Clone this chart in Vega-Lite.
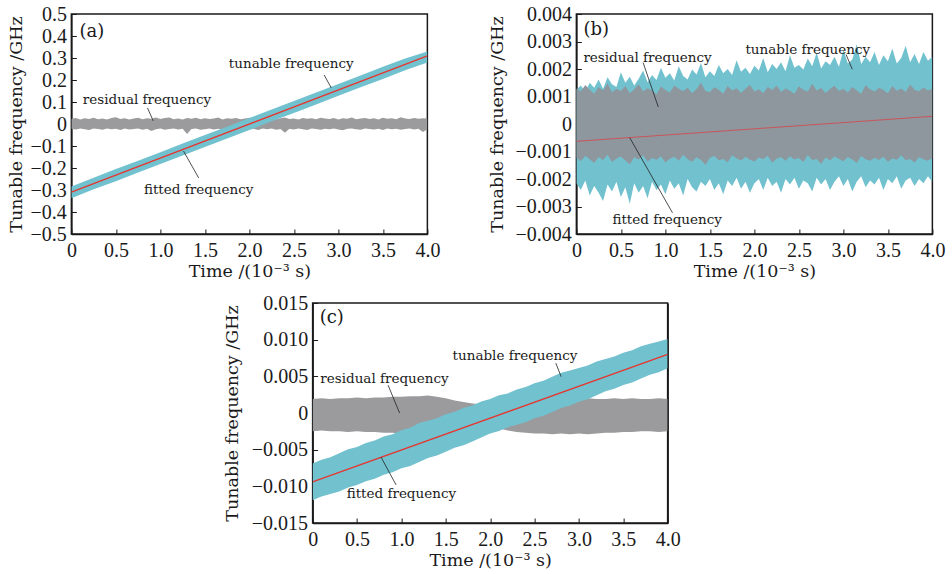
{
"$schema": "https://vega.github.io/schema/vega-lite/v6.json",
"padding": {"left": 6, "top": 3, "right": 2, "bottom": 2},
"background": "white",
"config": {
  "font": "DejaVu Serif",
  "view": {"stroke": "#1a1a1a", "strokeWidth": 1.5},
  "axis": {"grid": false, "domainColor": "#1a1a1a", "domainWidth": 1.5, "tickColor": "#1a1a1a", "tickSize": -5, "tickWidth": 1,
    "labelFont": "Liberation Serif", "labelFontSize": 20, "labelColor": "#1a1a1a", "labelPadding": 10, "labelFlush": false, "labelOverlap": false,
    "titleFont": "DejaVu Serif", "titleFontSize": 17.5, "titleFontWeight": "normal", "titleColor": "#1a1a1a"},
  "axisX": {"titlePadding": 2, "labelPadding": 11},
  "text": {"font": "DejaVu Serif"}
},
"datasets": {
  "a_res": [
{"t":0,"lo":-0.022,"hi":0.024},{"t":0.05,"lo":-0.025,"hi":0.027},{"t":0.1,"lo":-0.020,"hi":0.021},{"t":0.15,"lo":-0.024,"hi":0.026},{"t":0.2,"lo":-0.027,"hi":0.023},
{"t":0.25,"lo":-0.021,"hi":0.028},{"t":0.3,"lo":-0.023,"hi":0.022},{"t":0.35,"lo":-0.026,"hi":0.025},{"t":0.4,"lo":-0.020,"hi":0.020},{"t":0.45,"lo":-0.024,"hi":0.027},
{"t":0.5,"lo":-0.022,"hi":0.031},{"t":0.55,"lo":-0.027,"hi":0.023},{"t":0.6,"lo":-0.021,"hi":0.026},{"t":0.65,"lo":-0.025,"hi":0.021},{"t":0.7,"lo":-0.023,"hi":0.025},
{"t":0.75,"lo":-0.020,"hi":0.028},{"t":0.8,"lo":-0.026,"hi":0.022},{"t":0.85,"lo":-0.022,"hi":0.026},{"t":0.9,"lo":-0.032,"hi":0.024},{"t":0.95,"lo":-0.024,"hi":0.029},
{"t":1,"lo":-0.021,"hi":0.023},{"t":1.05,"lo":-0.026,"hi":0.027},{"t":1.1,"lo":-0.023,"hi":0.030},{"t":1.15,"lo":-0.020,"hi":0.022},{"t":1.2,"lo":-0.025,"hi":0.025},
{"t":1.25,"lo":-0.022,"hi":0.021},{"t":1.3,"lo":-0.046,"hi":0.027},{"t":1.35,"lo":-0.023,"hi":0.024},{"t":1.4,"lo":-0.021,"hi":0.028},{"t":1.45,"lo":-0.026,"hi":0.022},
{"t":1.5,"lo":-0.024,"hi":0.026},{"t":1.55,"lo":-0.020,"hi":0.023},{"t":1.6,"lo":-0.025,"hi":0.025},{"t":1.65,"lo":-0.022,"hi":0.029},{"t":1.7,"lo":-0.027,"hi":0.021},
{"t":1.75,"lo":-0.021,"hi":0.026},{"t":1.8,"lo":-0.024,"hi":0.024},{"t":1.85,"lo":-0.026,"hi":0.027},{"t":1.9,"lo":-0.020,"hi":0.022},{"t":1.95,"lo":-0.023,"hi":0.025},
{"t":2,"lo":-0.025,"hi":0.028},{"t":2.05,"lo":-0.022,"hi":0.023},{"t":2.1,"lo":-0.027,"hi":0.026},{"t":2.15,"lo":-0.021,"hi":0.021},{"t":2.2,"lo":-0.024,"hi":0.027},
{"t":2.25,"lo":-0.020,"hi":0.024},{"t":2.3,"lo":-0.026,"hi":0.022},{"t":2.35,"lo":-0.023,"hi":0.026},{"t":2.4,"lo":-0.040,"hi":0.029},{"t":2.45,"lo":-0.022,"hi":0.023},
{"t":2.5,"lo":-0.025,"hi":0.025},{"t":2.55,"lo":-0.021,"hi":0.021},{"t":2.6,"lo":-0.024,"hi":0.027},{"t":2.65,"lo":-0.027,"hi":0.024},{"t":2.7,"lo":-0.020,"hi":0.026},
{"t":2.75,"lo":-0.023,"hi":0.022},{"t":2.8,"lo":-0.026,"hi":0.028},{"t":2.85,"lo":-0.022,"hi":0.025},{"t":2.9,"lo":-0.024,"hi":0.023},{"t":2.95,"lo":-0.021,"hi":0.027},
{"t":3,"lo":-0.025,"hi":0.021},{"t":3.05,"lo":-0.028,"hi":0.026},{"t":3.1,"lo":-0.022,"hi":0.024},{"t":3.15,"lo":-0.020,"hi":0.029},{"t":3.2,"lo":-0.024,"hi":0.022},
{"t":3.25,"lo":-0.026,"hi":0.025},{"t":3.3,"lo":-0.021,"hi":0.027},{"t":3.35,"lo":-0.023,"hi":0.023},{"t":3.4,"lo":-0.025,"hi":0.026},{"t":3.45,"lo":-0.022,"hi":0.021},
{"t":3.5,"lo":-0.027,"hi":0.028},{"t":3.55,"lo":-0.020,"hi":0.024},{"t":3.6,"lo":-0.024,"hi":0.026},{"t":3.65,"lo":-0.022,"hi":0.022},{"t":3.7,"lo":-0.026,"hi":0.031},
{"t":3.75,"lo":-0.023,"hi":0.025},{"t":3.8,"lo":-0.021,"hi":0.023},{"t":3.85,"lo":-0.025,"hi":0.027},{"t":3.9,"lo":-0.022,"hi":0.024},{"t":3.95,"lo":-0.036,"hi":0.026},
{"t":4,"lo":-0.024,"hi":0.025}
  ],
  "a_tun": [
{"t":0,"lo":-0.338,"hi":-0.284},{"t":0.25,"lo":-0.297,"hi":-0.244},{"t":0.5,"lo":-0.260,"hi":-0.205},{"t":0.75,"lo":-0.221,"hi":-0.167},
{"t":1,"lo":-0.182,"hi":-0.128},{"t":1.25,"lo":-0.143,"hi":-0.089},{"t":1.5,"lo":-0.104,"hi":-0.050},{"t":1.75,"lo":-0.066,"hi":-0.012},
{"t":2,"lo":-0.027,"hi":0.027},{"t":2.25,"lo":0.012,"hi":0.066},{"t":2.5,"lo":0.050,"hi":0.104},{"t":2.75,"lo":0.089,"hi":0.143},
{"t":3,"lo":0.128,"hi":0.182},{"t":3.25,"lo":0.167,"hi":0.221},{"t":3.5,"lo":0.205,"hi":0.260},{"t":3.75,"lo":0.244,"hi":0.298},
{"t":4,"lo":0.280,"hi":0.330}
  ],
  "a_fit": [{"t":0,"v":-0.31},{"t":4,"v":0.31}],
  "a_arrow": [
    {"t":0.92,"v":0.014,"t2":0.855,"v2":0.073},
    {"t":2.92,"v":0.164,"t2":2.84,"v2":0.223},
    {"t":1.26,"v":-0.123,"t2":1.43,"v2":-0.245}
  ],
  "a_note": [
    {"t":0.85,"v":0.109,"label":"residual frequency"},
    {"t":2.47,"v":0.273,"label":"tunable frequency"},
    {"t":1.43,"v":-0.30,"label":"fitted frequency"}
  ],
  "a_tag": [{"t":0.09,"v":0.42,"label":"(a)"}],
  "b_band": [
{"t":0,"rlo":-0.00122,"rhi":0.00130,"tlo":-0.00215,"thi":0.00125},
{"t":0.05,"rlo":-0.00135,"rhi":0.00118,"tlo":-0.00240,"thi":0.00140},
{"t":0.1,"rlo":-0.00115,"rhi":0.00142,"tlo":-0.00205,"thi":0.00118},
{"t":0.15,"rlo":-0.00128,"rhi":0.00125,"tlo":-0.00260,"thi":0.00150},
{"t":0.2,"rlo":-0.00142,"rhi":0.00110,"tlo":-0.00225,"thi":0.00132},
{"t":0.25,"rlo":-0.00120,"rhi":0.00135,"tlo":-0.00250,"thi":0.00162},
{"t":0.3,"rlo":-0.00131,"rhi":0.00122,"tlo":-0.00280,"thi":0.00128},
{"t":0.35,"rlo":-0.00112,"rhi":0.00148,"tlo":-0.00220,"thi":0.00170},
{"t":0.4,"rlo":-0.00138,"rhi":0.00115,"tlo":-0.00245,"thi":0.00145},
{"t":0.45,"rlo":-0.00125,"rhi":0.00128,"tlo":-0.00210,"thi":0.00135},
{"t":0.5,"rlo":-0.00118,"rhi":0.00120,"tlo":-0.00265,"thi":0.00188},
{"t":0.55,"rlo":-0.00133,"rhi":0.00138,"tlo":-0.00230,"thi":0.00150},
{"t":0.6,"rlo":-0.00146,"rhi":0.00112,"tlo":-0.00290,"thi":0.00172},
{"t":0.65,"rlo":-0.00121,"rhi":0.00126,"tlo":-0.00215,"thi":0.00140},
{"t":0.7,"rlo":-0.00129,"rhi":0.00145,"tlo":-0.00250,"thi":0.00165},
{"t":0.75,"rlo":-0.00114,"rhi":0.00118,"tlo":-0.00225,"thi":0.00195},
{"t":0.8,"rlo":-0.00136,"rhi":0.00130,"tlo":-0.00270,"thi":0.00152},
{"t":0.85,"rlo":-0.00124,"rhi":0.00122,"tlo":-0.00210,"thi":0.00178},
{"t":0.9,"rlo":-0.00130,"rhi":0.00108,"tlo":-0.00240,"thi":0.00160},
{"t":0.95,"rlo":-0.00117,"rhi":0.00136,"tlo":-0.00220,"thi":0.00205},
{"t":1,"rlo":-0.00140,"rhi":0.00124,"tlo":-0.00255,"thi":0.00168},
{"t":1.05,"rlo":-0.00126,"rhi":0.00115,"tlo":-0.00205,"thi":0.00185},
{"t":1.1,"rlo":-0.00119,"rhi":0.00140,"tlo":-0.00235,"thi":0.00158},
{"t":1.15,"rlo":-0.00134,"rhi":0.00128,"tlo":-0.00215,"thi":0.00210},
{"t":1.2,"rlo":-0.00112,"rhi":0.00119,"tlo":-0.00260,"thi":0.00175},
{"t":1.25,"rlo":-0.00128,"rhi":0.00132,"tlo":-0.00200,"thi":0.00162},
{"t":1.3,"rlo":-0.00137,"rhi":0.00112,"tlo":-0.00230,"thi":0.00198},
{"t":1.35,"rlo":-0.00121,"rhi":0.00127,"tlo":-0.00245,"thi":0.00180},
{"t":1.4,"rlo":-0.00131,"rhi":0.00150,"tlo":-0.00210,"thi":0.00222},
{"t":1.45,"rlo":-0.00148,"rhi":0.00120,"tlo":-0.00225,"thi":0.00170},
{"t":1.5,"rlo":-0.00123,"rhi":0.00116,"tlo":-0.00200,"thi":0.00192},
{"t":1.55,"rlo":-0.00116,"rhi":0.00134,"tlo":-0.00240,"thi":0.00175},
{"t":1.6,"rlo":-0.00132,"rhi":0.00125,"tlo":-0.00215,"thi":0.00215},
{"t":1.65,"rlo":-0.00127,"rhi":0.00110,"tlo":-0.00255,"thi":0.00185},
{"t":1.7,"rlo":-0.00139,"rhi":0.00138,"tlo":-0.00205,"thi":0.00200},
{"t":1.75,"rlo":-0.00114,"rhi":0.00122,"tlo":-0.00225,"thi":0.00178},
{"t":1.8,"rlo":-0.00125,"rhi":0.00130,"tlo":-0.00195,"thi":0.00232},
{"t":1.85,"rlo":-0.00133,"rhi":0.00114,"tlo":-0.00235,"thi":0.00190},
{"t":1.9,"rlo":-0.00119,"rhi":0.00128,"tlo":-0.00210,"thi":0.00205},
{"t":1.95,"rlo":-0.00130,"rhi":0.00143,"tlo":-0.00250,"thi":0.00182},
{"t":2,"rlo":-0.00136,"rhi":0.00118,"tlo":-0.00215,"thi":0.00212},
{"t":2.05,"rlo":-0.00122,"rhi":0.00126,"tlo":-0.00200,"thi":0.00195},
{"t":2.1,"rlo":-0.00128,"rhi":0.00112,"tlo":-0.00240,"thi":0.00240},
{"t":2.15,"rlo":-0.00115,"rhi":0.00135,"tlo":-0.00195,"thi":0.00188},
{"t":2.2,"rlo":-0.00141,"rhi":0.00124,"tlo":-0.00225,"thi":0.00218},
{"t":2.25,"rlo":-0.00126,"rhi":0.00140,"tlo":-0.00210,"thi":0.00200},
{"t":2.3,"rlo":-0.00120,"rhi":0.00116,"tlo":-0.00250,"thi":0.00225},
{"t":2.35,"rlo":-0.00134,"rhi":0.00129,"tlo":-0.00200,"thi":0.00192},
{"t":2.4,"rlo":-0.00117,"rhi":0.00121,"tlo":-0.00220,"thi":0.00250},
{"t":2.45,"rlo":-0.00129,"rhi":0.00110,"tlo":-0.00195,"thi":0.00205},
{"t":2.5,"rlo":-0.00124,"rhi":0.00137,"tlo":-0.00235,"thi":0.00215},
{"t":2.55,"rlo":-0.00138,"rhi":0.00125,"tlo":-0.00205,"thi":0.00198},
{"t":2.6,"rlo":-0.00113,"rhi":0.00118,"tlo":-0.00215,"thi":0.00238},
{"t":2.65,"rlo":-0.00131,"rhi":0.00146,"tlo":-0.00245,"thi":0.00210},
{"t":2.7,"rlo":-0.00127,"rhi":0.00122,"tlo":-0.00195,"thi":0.00260},
{"t":2.75,"rlo":-0.00145,"rhi":0.00131,"tlo":-0.00220,"thi":0.00202},
{"t":2.8,"rlo":-0.00121,"rhi":0.00113,"tlo":-0.00200,"thi":0.00228},
{"t":2.85,"rlo":-0.00133,"rhi":0.00127,"tlo":-0.00240,"thi":0.00215},
{"t":2.9,"rlo":-0.00118,"rhi":0.00139,"tlo":-0.00210,"thi":0.00245},
{"t":2.95,"rlo":-0.00126,"rhi":0.00120,"tlo":-0.00190,"thi":0.00208},
{"t":3,"rlo":-0.00135,"rhi":0.00128,"tlo":-0.00225,"thi":0.00270},
{"t":3.05,"rlo":-0.00120,"rhi":0.00115,"tlo":-0.00200,"thi":0.00220},
{"t":3.1,"rlo":-0.00129,"rhi":0.00135,"tlo":-0.00245,"thi":0.00235},
{"t":3.15,"rlo":-0.00142,"rhi":0.00123,"tlo":-0.00210,"thi":0.00290},
{"t":3.2,"rlo":-0.00116,"rhi":0.00110,"tlo":-0.00190,"thi":0.00218},
{"t":3.25,"rlo":-0.00128,"rhi":0.00141,"tlo":-0.00230,"thi":0.00245},
{"t":3.3,"rlo":-0.00134,"rhi":0.00126,"tlo":-0.00205,"thi":0.00225},
{"t":3.35,"rlo":-0.00123,"rhi":0.00118,"tlo":-0.00220,"thi":0.00262},
{"t":3.4,"rlo":-0.00131,"rhi":0.00132,"tlo":-0.00195,"thi":0.00215},
{"t":3.45,"rlo":-0.00119,"rhi":0.00124,"tlo":-0.00240,"thi":0.00250},
{"t":3.5,"rlo":-0.00137,"rhi":0.00112,"tlo":-0.00200,"thi":0.00228},
{"t":3.55,"rlo":-0.00125,"rhi":0.00138,"tlo":-0.00215,"thi":0.00275},
{"t":3.6,"rlo":-0.00130,"rhi":0.00121,"tlo":-0.00190,"thi":0.00220},
{"t":3.65,"rlo":-0.00114,"rhi":0.00129,"tlo":-0.00235,"thi":0.00240},
{"t":3.7,"rlo":-0.00132,"rhi":0.00116,"tlo":-0.00205,"thi":0.00285},
{"t":3.75,"rlo":-0.00127,"rhi":0.00144,"tlo":-0.00195,"thi":0.00225},
{"t":3.8,"rlo":-0.00140,"rhi":0.00125,"tlo":-0.00225,"thi":0.00255},
{"t":3.85,"rlo":-0.00121,"rhi":0.00119,"tlo":-0.00200,"thi":0.00218},
{"t":3.9,"rlo":-0.00128,"rhi":0.00133,"tlo":-0.00215,"thi":0.00262},
{"t":3.95,"rlo":-0.00134,"rhi":0.00122,"tlo":-0.00190,"thi":0.00230},
{"t":4,"rlo":-0.00124,"rhi":0.00127,"tlo":-0.00210,"thi":0.00245}
  ],
  "b_fit": [{"t":0,"v":-0.00063},{"t":4,"v":0.00028}],
  "b_arrow": [
    {"t":0.92,"v":0.00062,"t2":0.75,"v2":0.00223},
    {"t":3.10,"v":0.00199,"t2":3.03,"v2":0.00253},
    {"t":0.60,"v":-0.0005,"t2":1.08,"v2":-0.00323}
  ],
  "b_note": [
    {"t":0.80,"v":0.00241,"label":"residual frequency"},
    {"t":2.60,"v":0.00268,"label":"tunable frequency"},
    {"t":1.02,"v":-0.00349,"label":"fitted frequency"}
  ],
  "b_tag": [{"t":0.08,"v":0.00342,"label":"(b)"}],
  "c_band": [
{"t":0,"rlo":-0.0025,"rhi":0.0019,"tlo":-0.01190,"thi":-0.00690},
{"t":0.1,"rlo":-0.0024,"rhi":0.0020,"tlo":-0.01137,"thi":-0.00637},
{"t":0.2,"rlo":-0.0025,"rhi":0.0019,"tlo":-0.01103,"thi":-0.00603},
{"t":0.3,"rlo":-0.0025,"rhi":0.0020,"tlo":-0.01070,"thi":-0.00550},
{"t":0.4,"rlo":-0.0026,"rhi":0.0020,"tlo":-0.01016,"thi":-0.00496},
{"t":0.5,"rlo":-0.0025,"rhi":0.0021,"tlo":-0.00983,"thi":-0.00463},
{"t":0.6,"rlo":-0.0026,"rhi":0.0020,"tlo":-0.00929,"thi":-0.00409},
{"t":0.7,"rlo":-0.0026,"rhi":0.0021,"tlo":-0.00896,"thi":-0.00376},
{"t":0.8,"rlo":-0.0027,"rhi":0.0021,"tlo":-0.00842,"thi":-0.00322},
{"t":0.9,"rlo":-0.0027,"rhi":0.0022,"tlo":-0.00809,"thi":-0.00289},
{"t":1,"rlo":-0.0028,"rhi":0.0022,"tlo":-0.00755,"thi":-0.00235},
{"t":1.1,"rlo":-0.0027,"rhi":0.0023,"tlo":-0.00722,"thi":-0.00202},
{"t":1.2,"rlo":-0.0026,"rhi":0.0023,"tlo":-0.00668,"thi":-0.00138},
{"t":1.3,"rlo":-0.0025,"rhi":0.0024,"tlo":-0.00615,"thi":-0.00105},
{"t":1.4,"rlo":-0.0023,"rhi":0.0022,"tlo":-0.00581,"thi":-0.00071},
{"t":1.5,"rlo":-0.0021,"rhi":0.0020,"tlo":-0.00528,"thi":-0.00018},
{"t":1.6,"rlo":-0.0019,"rhi":0.0017,"tlo":-0.00474,"thi":0.00016},
{"t":1.7,"rlo":-0.0017,"rhi":0.0015,"tlo":-0.00441,"thi":0.00069},
{"t":1.8,"rlo":-0.0016,"rhi":0.0013,"tlo":-0.00387,"thi":0.00103},
{"t":1.9,"rlo":-0.0016,"rhi":0.0012,"tlo":-0.00334,"thi":0.00156},
{"t":2,"rlo":-0.0018,"rhi":0.0011,"tlo":-0.00280,"thi":0.00190},
{"t":2.1,"rlo":-0.0021,"rhi":0.0012,"tlo":-0.00247,"thi":0.00243},
{"t":2.2,"rlo":-0.0024,"rhi":0.0013,"tlo":-0.00193,"thi":0.00267},
{"t":2.3,"rlo":-0.0026,"rhi":0.0014,"tlo":-0.00160,"thi":0.00320},
{"t":2.4,"rlo":-0.0027,"rhi":0.0015,"tlo":-0.00126,"thi":0.00354},
{"t":2.5,"rlo":-0.0028,"rhi":0.0016,"tlo":-0.00073,"thi":0.00407},
{"t":2.6,"rlo":-0.0028,"rhi":0.0017,"tlo":-0.00039,"thi":0.00441},
{"t":2.7,"rlo":-0.0029,"rhi":0.0018,"tlo":0.00014,"thi":0.00494},
{"t":2.8,"rlo":-0.0028,"rhi":0.0018,"tlo":0.00068,"thi":0.00548},
{"t":2.9,"rlo":-0.0029,"rhi":0.0019,"tlo":0.00101,"thi":0.00581},
{"t":3,"rlo":-0.0028,"rhi":0.0019,"tlo":0.00155,"thi":0.00615},
{"t":3.1,"rlo":-0.0029,"rhi":0.0020,"tlo":0.00188,"thi":0.00648},
{"t":3.2,"rlo":-0.0028,"rhi":0.0019,"tlo":0.00242,"thi":0.00702},
{"t":3.3,"rlo":-0.0027,"rhi":0.0019,"tlo":0.00295,"thi":0.00735},
{"t":3.4,"rlo":-0.0027,"rhi":0.0020,"tlo":0.00329,"thi":0.00769},
{"t":3.5,"rlo":-0.0026,"rhi":0.0019,"tlo":0.00382,"thi":0.00822},
{"t":3.6,"rlo":-0.0026,"rhi":0.0020,"tlo":0.00416,"thi":0.00856},
{"t":3.7,"rlo":-0.0025,"rhi":0.0019,"tlo":0.00469,"thi":0.00909},
{"t":3.8,"rlo":-0.0025,"rhi":0.0019,"tlo":0.00523,"thi":0.00943},
{"t":3.9,"rlo":-0.0026,"rhi":0.0020,"tlo":0.00556,"thi":0.00976},
{"t":4,"rlo":-0.0025,"rhi":0.0019,"tlo":0.00610,"thi":0.01010}
  ],
  "c_fit": [{"t":0,"v":-0.0094},{"t":4,"v":0.0080}],
  "c_arrow": [
    {"t":0.98,"v":0.0,"t2":0.85,"v2":0.0038},
    {"t":2.80,"v":0.00495,"t2":2.74,"v2":0.0068},
    {"t":0.77,"v":-0.0060,"t2":0.94,"v2":-0.0098}
  ],
  "c_note": [
    {"t":0.81,"v":0.0046,"label":"residual frequency"},
    {"t":2.28,"v":0.0078,"label":"tunable frequency"},
    {"t":1.0,"v":-0.011,"label":"fitted frequency"}
  ],
  "c_tag": [{"t":0.08,"v":0.01295,"label":"(c)"}]
},
"spacing": 11,
"center": true,
"vconcat": [
 {
  "spacing": 46,
  "hconcat": [
   {
    "width": 356, "height": 220,
    "encoding": {"x": {"field": "t", "type": "quantitative", "title": "Time /(10⁻³ s)", "scale": {"domain": [0, 4], "nice": false, "zero": false},
       "axis": {"values": [0, 0.5, 1, 1.5, 2, 2.5, 3, 3.5, 4], "tickCount": 30, "labelExpr": "datum.value == 0 ? '0' : format(datum.value, '.1f')"}}},
    "layer": [
     {"data": {"name": "a_res"}, "mark": {"type": "area", "color": "#9b9b9e", "clip": true},
      "encoding": {"y": {"field": "lo", "type": "quantitative", "title": "Tunable frequency /GHz", "scale": {"domain": [-0.5, 0.5], "nice": false, "zero": false},
         "axis": {"values": [-0.5, -0.4, -0.3, -0.2, -0.1, 0, 0.1, 0.2, 0.3, 0.4, 0.5], "tickCount": 30, "labelExpr": "datum.value == 0 ? '0' : format(datum.value, '.1f')", "minExtent": 42, "maxExtent": 42, "titlePadding": 4}},
       "y2": {"field": "hi"}}},
     {"data": {"name": "a_tun"}, "mark": {"type": "area", "color": "#72c1cf", "clip": true},
      "encoding": {"y": {"field": "lo", "type": "quantitative", "title": "Tunable frequency /GHz", "scale": {"domain": [-0.5, 0.5], "nice": false, "zero": false}}, "y2": {"field": "hi"}}},
     {"data": {"name": "a_fit"}, "mark": {"type": "line", "color": "#e5362f", "strokeWidth": 1.3, "clip": true},
      "encoding": {"y": {"field": "v", "type": "quantitative", "title": "Tunable frequency /GHz", "scale": {"domain": [-0.5, 0.5], "nice": false, "zero": false}}}},
     {"data": {"name": "a_arrow"}, "mark": {"type": "rule", "color": "#222222", "strokeWidth": 0.8},
      "encoding": {"y": {"field": "v", "type": "quantitative", "title": "Tunable frequency /GHz", "scale": {"domain": [-0.5, 0.5], "nice": false, "zero": false}}, "x2": {"field": "t2"}, "y2": {"field": "v2"}}},
     {"data": {"name": "a_note"}, "mark": {"type": "text", "fontSize": 13.5, "color": "#1a1a1a", "baseline": "middle"},
      "encoding": {"y": {"field": "v", "type": "quantitative", "title": "Tunable frequency /GHz", "scale": {"domain": [-0.5, 0.5], "nice": false, "zero": false}}, "text": {"field": "label"}}},
     {"data": {"name": "a_tag"}, "mark": {"type": "text", "fontSize": 18, "align": "left", "color": "#1a1a1a", "baseline": "middle"},
      "encoding": {"y": {"field": "v", "type": "quantitative", "title": "Tunable frequency /GHz", "scale": {"domain": [-0.5, 0.5], "nice": false, "zero": false}}, "text": {"field": "label"}}}
    ]
   },
   {
    "width": 356, "height": 220,
    "encoding": {"x": {"field": "t", "type": "quantitative", "title": "Time /(10⁻³ s)", "scale": {"domain": [0, 4], "nice": false, "zero": false},
       "axis": {"values": [0, 0.5, 1, 1.5, 2, 2.5, 3, 3.5, 4], "tickCount": 30, "labelExpr": "datum.value == 0 ? '0' : format(datum.value, '.1f')"}}},
    "layer": [
     {"data": {"name": "b_band"}, "mark": {"type": "area", "color": "#72c1cf", "clip": true},
      "encoding": {"y": {"field": "tlo", "type": "quantitative", "title": "Tunable frequency /GHz", "scale": {"domain": [-0.004, 0.004], "nice": false, "zero": false},
         "axis": {"values": [-0.004, -0.003, -0.002, -0.001, 0, 0.001, 0.002, 0.003, 0.004], "tickCount": 30, "labelExpr": "datum.value == 0 ? '0' : format(datum.value, '.3f')", "minExtent": 64, "maxExtent": 64, "titlePadding": 6}},
       "y2": {"field": "thi"}}},
     {"data": {"name": "b_band"}, "mark": {"type": "area", "color": "#8e979d", "clip": true},
      "encoding": {"y": {"field": "rlo", "type": "quantitative", "title": "Tunable frequency /GHz", "scale": {"domain": [-0.004, 0.004], "nice": false, "zero": false}}, "y2": {"field": "rhi"}}},
     {"data": {"name": "b_fit"}, "mark": {"type": "line", "color": "#c8555b", "strokeWidth": 1, "clip": true},
      "encoding": {"y": {"field": "v", "type": "quantitative", "title": "Tunable frequency /GHz", "scale": {"domain": [-0.004, 0.004], "nice": false, "zero": false}}}},
     {"data": {"name": "b_arrow"}, "mark": {"type": "rule", "color": "#222222", "strokeWidth": 0.8},
      "encoding": {"y": {"field": "v", "type": "quantitative", "title": "Tunable frequency /GHz", "scale": {"domain": [-0.004, 0.004], "nice": false, "zero": false}}, "x2": {"field": "t2"}, "y2": {"field": "v2"}}},
     {"data": {"name": "b_note"}, "mark": {"type": "text", "fontSize": 13.5, "color": "#1a1a1a", "baseline": "middle"},
      "encoding": {"y": {"field": "v", "type": "quantitative", "title": "Tunable frequency /GHz", "scale": {"domain": [-0.004, 0.004], "nice": false, "zero": false}}, "text": {"field": "label"}}},
     {"data": {"name": "b_tag"}, "mark": {"type": "text", "fontSize": 18, "align": "left", "color": "#1a1a1a", "baseline": "middle"},
      "encoding": {"y": {"field": "v", "type": "quantitative", "title": "Tunable frequency /GHz", "scale": {"domain": [-0.004, 0.004], "nice": false, "zero": false}}, "text": {"field": "label"}}}
    ]
   }
  ]
 },
 {
  "width": 355, "height": 220,
  "resolve": {"axis": {"y": "independent"}},
  "encoding": {"x": {"field": "t", "type": "quantitative", "title": "Time /(10⁻³ s)", "scale": {"domain": [0, 4], "nice": false, "zero": false},
     "axis": {"values": [0, 0.5, 1, 1.5, 2, 2.5, 3, 3.5, 4], "tickCount": 30, "labelExpr": "datum.value == 0 ? '0' : format(datum.value, '.1f')"}}},
  "layer": [
   {"data": {"name": "c_band"}, "mark": {"type": "area", "color": "#9b9b9e", "clip": true},
    "encoding": {"y": {"field": "rlo", "type": "quantitative", "title": "Tunable frequency /GHz", "scale": {"domain": [-0.015, 0.015], "nice": false, "zero": false},
       "axis": {"values": [-0.015, -0.01, -0.005, 0, 0.005, 0.01, 0.015], "tickCount": 30, "labelExpr": "datum.value == 0 ? '0' : format(datum.value, '.3f')", "minExtent": 64, "maxExtent": 64, "titlePadding": 7}},
     "y2": {"field": "rhi"}}},
   {"data": {"name": "c_band"}, "mark": {"type": "area", "color": "#72c1cf", "clip": true},
    "encoding": {"y": {"field": "tlo", "type": "quantitative", "axis": null, "scale": {"domain": [-0.015, 0.015], "nice": false, "zero": false}}, "y2": {"field": "thi"}}},
   {"data": {"name": "c_fit"}, "mark": {"type": "line", "color": "#e5362f", "strokeWidth": 1.3, "clip": true},
    "encoding": {"y": {"field": "v", "type": "quantitative", "title": null, "scale": {"domain": [-0.015, 0.015], "nice": false, "zero": false},
       "axis": {"orient": "right", "labels": false, "ticks": false, "domain": true, "minExtent": 36, "maxExtent": 36}}}},
   {"data": {"name": "c_arrow"}, "mark": {"type": "rule", "color": "#222222", "strokeWidth": 0.8},
    "encoding": {"y": {"field": "v", "type": "quantitative", "axis": null, "scale": {"domain": [-0.015, 0.015], "nice": false, "zero": false}}, "x2": {"field": "t2"}, "y2": {"field": "v2"}}},
   {"data": {"name": "c_note"}, "mark": {"type": "text", "fontSize": 13.5, "color": "#1a1a1a", "baseline": "middle"},
    "encoding": {"y": {"field": "v", "type": "quantitative", "axis": null, "scale": {"domain": [-0.015, 0.015], "nice": false, "zero": false}}, "text": {"field": "label"}}},
   {"data": {"name": "c_tag"}, "mark": {"type": "text", "fontSize": 18, "align": "left", "color": "#1a1a1a", "baseline": "middle"},
    "encoding": {"y": {"field": "v", "type": "quantitative", "axis": null, "scale": {"domain": [-0.015, 0.015], "nice": false, "zero": false}}, "text": {"field": "label"}}}
  ]
 }
]
}
